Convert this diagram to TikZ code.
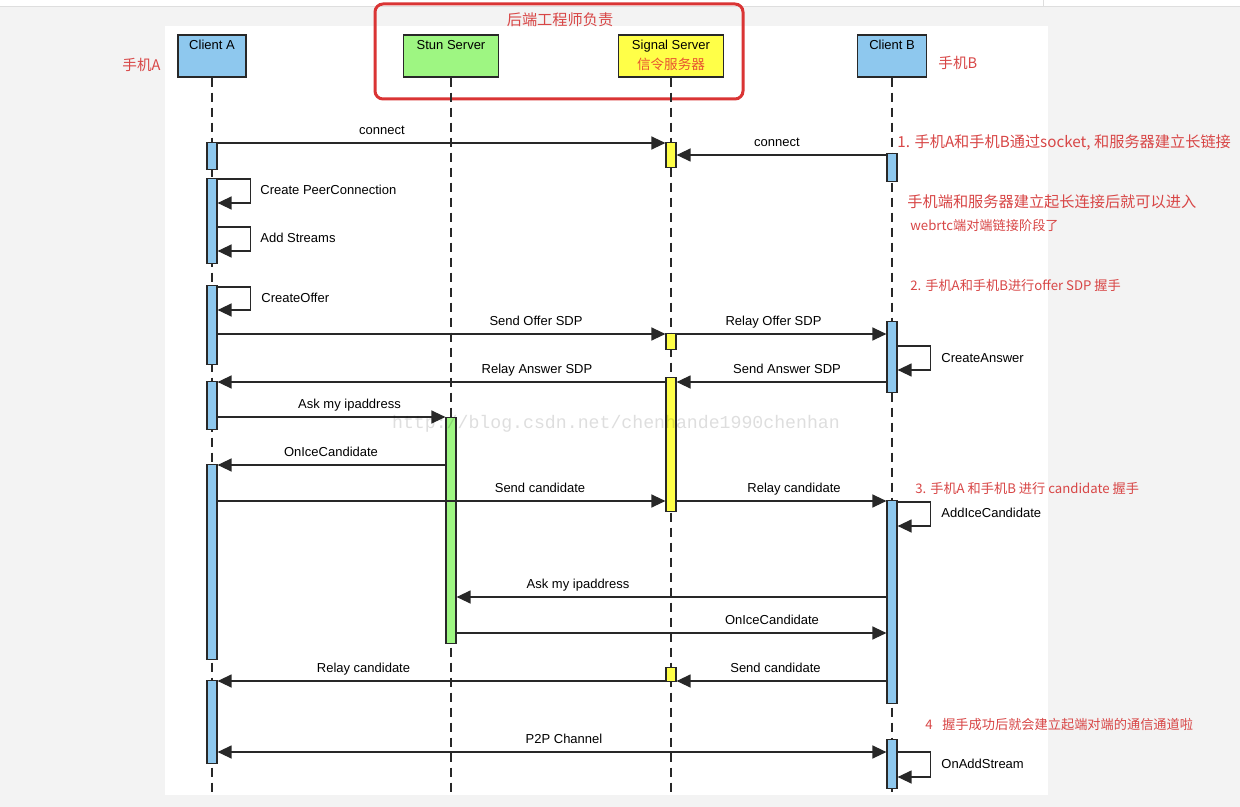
\documentclass[tikz,border=0pt]{standalone}
\usepackage{fontspec}
\setmainfont{Liberation Sans}
\newfontfamily\cjk{Noto Sans CJK SC}
\newfontfamily\wmfont{Liberation Mono}
\usetikzlibrary{arrows.meta}

\definecolor{pagegray}{RGB}{243,243,243}
\definecolor{rulegray}{RGB}{222,222,222}
\definecolor{clientblue}{RGB}{142,200,238}
\definecolor{stungreen}{RGB}{158,246,130}
\definecolor{signalyellow}{RGB}{255,255,72}
\definecolor{notered}{RGB}{216,70,70}
\definecolor{framered}{RGB}{218,52,52}
\definecolor{cnorange}{RGB}{232,84,48}
\definecolor{linegray}{RGB}{40,40,40}

\tikzset{
  >={Triangle[length=7pt,width=6.5pt]},
  headbox/.style={draw=linegray, line width=0.8pt, anchor=north, minimum height=21pt, inner sep=0pt},
  bar/.style={draw=linegray, line width=0.6pt, fill=#1, anchor=north, minimum width=5pt, inner sep=0pt},
  lifeline/.style={draw=linegray, line width=0.6pt, dash pattern=on 4.5pt off 3pt},
  msg/.style={draw=linegray, line width=0.65pt, ->},
  twoway/.style={draw=linegray, line width=0.65pt, <->},
  lbl/.style={font=\fontsize{6.5}{8}\selectfont, anchor=base, inner sep=0pt},
  selflbl/.style={lbl, anchor=base west},
  note/.style={font=\cjk\fontsize{7.6}{9}\selectfont, text=notered, anchor=base west, inner sep=0pt},
  smallnote/.style={note, font=\cjk\fontsize{6.6}{8}\selectfont},
}

\begin{document}
\begin{tikzpicture}[x=0.5pt, y=-0.5pt]

% Fondo de la pagina
\fill[pagegray] (0,0) rectangle (1240,807);
\useasboundingbox (0,0) rectangle (1240,807);
\fill[white] (0,0) rectangle (1240,7);
\draw[rulegray, line width=0.5pt] (0,7) -- (1240,7);
\draw[rulegray, line width=0.5pt] (1043,0) -- (1043,7);
\fill[white] (165,26) rectangle (1048,795);

% Cabeceras de los participantes
\node[headbox, fill=clientblue, minimum width=34pt] (ca) at (212,34) {};
\node[headbox, fill=stungreen, minimum width=47.5pt] (st) at (451,34) {};
\node[headbox, fill=signalyellow, minimum width=52.5pt] (sg) at (671,34) {};
\node[headbox, fill=clientblue, minimum width=34.5pt] (cb) at (892,34) {};

\node[lbl] (tca) at (212,49.5) {Client A};
\node[lbl] (tst) at (451,49.5) {Stun Server};
\node[lbl] (tsg) at (671,49.5) {Signal Server};
\node[lbl, font=\cjk\fontsize{6.8}{8}\selectfont, text=cnorange] (tsgcn) at (671,70) {信令服务器};
\node[lbl] (tcb) at (892,49.5) {Client B};

\node[note, font=\cjk\fontsize{7.3}{9}\selectfont] (pa) at (122,70.5) {手机A};
\node[note, font=\cjk\fontsize{7.3}{9}\selectfont] (pb) at (938,68.5) {手机B};

% Marco del backend
\draw[framered, line width=1.5pt, rounded corners=4pt] (375,4) rectangle (743,99);
\node[note, anchor=base] (backend) at (560,25.5) {后端工程师负责};

% Lineas de vida
\coordinate (bottom) at (0,795);
\foreach \n in {ca,st,sg,cb}
  \draw[lifeline] (\n.south) -- (\n.south |- bottom);

% Barras de activacion (nombre/x/inicio/fin/color)
\foreach \n/\x/\t/\b/\c in {a1/212/142/169/clientblue, a2/212/178/263/clientblue,
    a3/212/285/364/clientblue, a4/212/381/429/clientblue, a5/212/464/659/clientblue,
    a6/212/680/763/clientblue, t1/451/417/643/stungreen,
    s1/671/142/167/signalyellow, s2/671/333/349/signalyellow,
    s3/671/377/511/signalyellow, s4/671/667/681/signalyellow,
    b1/892/153/181/clientblue, b2/892/321/392/clientblue,
    b3/892/500/703/clientblue, b4/892/739/788/clientblue}
  \node[bar=\c, minimum height=(\b-\t)*0.5pt] (\n) at (\x,\t) {};

% Alturas de los mensajes
\foreach \n/\y in {conA/143, conB/155, cpc/179, adds/227, cof/287, offer/334,
    can/346, answer/382, askA/417, iceA/465, candA/501, aic/502, askB/597,
    iceB/633, candB/681, ptp/752}
  \coordinate (\n) at (0,\y);

% Fase 1: conexion con el servidor de senalizacion
\draw[msg] (a1.east |- conA) -- (s1.west |- conA);
\node[lbl] (lconA) at (382,134.5) {connect};
\draw[msg] (b1.west |- conB) -- (s1.east |- conB);
\node[lbl] (lconB) at (777,146.5) {connect};

% Fase 2: offer / answer
\draw[msg] (a2.east |- cpc) -- ++(33,0) -- ++(0,24) -- ++(-33,0);
\node[selflbl] (lcpc) at (260,195) {Create PeerConnection};
\draw[msg] (a2.east |- adds) -- ++(33,0) -- ++(0,24) -- ++(-33,0);
\node[selflbl] (ladds) at (260,243) {Add Streams};
\draw[msg] (a3.east |- cof) -- ++(33,0) -- ++(0,23) -- ++(-33,0);
\node[selflbl] (lcof) at (261,302) {CreateOffer};

\draw[msg] (a3.east |- offer) -- (s2.west |- offer);
\node[lbl] (loffer) at (536,325.5) {Send Offer SDP};
\draw[msg] (s2.east |- offer) -- (b2.west |- offer);
\node[lbl] (lroffer) at (773.5,325.5) {Relay Offer SDP};
\draw[msg] (b2.east |- can) -- ++(33,0) -- ++(0,24) -- ++(-33,0);
\node[selflbl] (lcan) at (941,362) {CreateAnswer};
\draw[msg] (b2.west |- answer) -- (s3.east |- answer);
\node[lbl] (lanswer) at (787,373.5) {Send Answer SDP};
\draw[msg] (s3.west |- answer) -- (a4.east |- answer);
\node[lbl] (lranswer) at (537,373.5) {Relay Answer SDP};

% Fase 3: candidatos
\draw[msg] (a4.east |- askA) -- (t1.west |- askA);
\node[lbl] (laskA) at (349.5,408.5) {Ask my ipaddress};
\draw[msg] (t1.west |- iceA) -- (a5.east |- iceA);
\node[lbl] (liceA) at (331,456.5) {OnIceCandidate};
\draw[msg] (a5.east |- candA) -- (s3.west |- candA);
\node[lbl] (lcandA) at (540,492.5) {Send candidate};
\draw[msg] (s3.east |- candA) -- (b3.west |- candA);
\node[lbl] (lrcandA) at (794,492.5) {Relay candidate};
\draw[msg] (b3.east |- aic) -- ++(33,0) -- ++(0,24) -- ++(-33,0);
\node[selflbl] (laic) at (941,517) {AddIceCandidate};

\draw[msg] (b3.west |- askB) -- (t1.east |- askB);
\node[lbl] (laskB) at (578,588.5) {Ask my ipaddress};
\draw[msg] (t1.east |- iceB) -- (b3.west |- iceB);
\node[lbl] (liceB) at (772,624.5) {OnIceCandidate};
\draw[msg] (b3.west |- candB) -- (s4.east |- candB);
\node[lbl] (lcandB) at (775.5,672.5) {Send candidate};
\draw[msg] (s4.west |- candB) -- (a6.east |- candB);
\node[lbl] (lrcandB) at (363.5,672.5) {Relay candidate};

% Fase 4: canal P2P
\draw[twoway] (a6.east |- ptp) -- (b4.west |- ptp);
\node[lbl] (lptp) at (564,743.5) {P2P Channel};
\draw[msg] (b4.east |- ptp) -- ++(33,0) -- ++(0,25) -- ++(-33,0);
\node[selflbl] (loas) at (941,768) {OnAddStream};

% Notas en rojo
\node[note] (n1) at (897,148) {1. 手机A和手机B通过socket, 和服务器建立长链接};
\node[note] (n2) at (907,208) {手机端和服务器建立起长连接后就可以进入};
\node[smallnote] (n3) at (910,231) {webrtc端对端链接阶段了};
\node[smallnote] (n4) at (910,291) {2. 手机A和手机B进行offer SDP 握手};
\node[smallnote] (n5) at (915,493) {3. 手机A 和手机B 进行 candidate 握手};
\node[smallnote] (n6) at (925,729) {4\enspace\ 握手成功后就会建立起端对端的通信通道啦};

% Marca de agua
\node[font=\wmfont\fontsize{9.1}{10}\selectfont, text=black, text opacity=0.13, inner sep=0pt] (wm) at (616,424) {http://blog.csdn.net/chenhande1990chenhan};

\end{tikzpicture}
\end{document}
